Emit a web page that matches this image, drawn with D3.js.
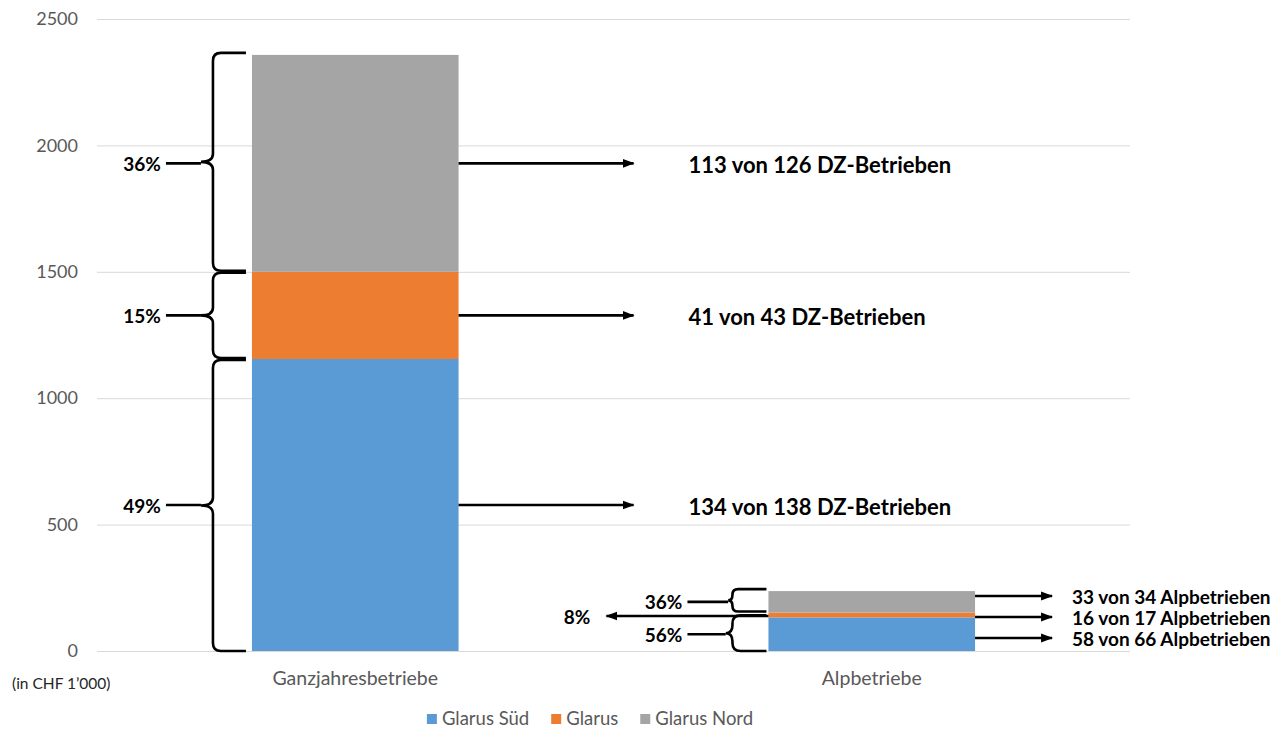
<!DOCTYPE html>
<html>
<head>
<meta charset="utf-8">
<script src="https://cdn.jsdelivr.net/npm/d3@7"></script>
<style>
body{margin:0;background:#fff;}
svg{font-family:Lato,"Open Sans",sans-serif;}
</style>
</head>
<body>
<svg id="chart" width="1277" height="729"></svg>
<script>
// chart values
var categories = ["Ganzjahresbetriebe", "Alpbetriebe"];
var regions = ["Glarus Süd", "Glarus", "Glarus Nord"];
var colors = ["#5B9BD5", "#ED7D31", "#A5A5A5"];
var valSued = [1155, 133];
var valGlarus = [345, 19];
var valNord = [858, 85];
var yTicks = [0, 500, 1000, 1500, 2000, 2500];
// betriebe with payments / all betriebe
var countSued = [134, 58], totalSued = [138, 66];
var countGlarus = [41, 16], totalGlarus = [43, 17];
var countNord = [113, 33], totalNord = [126, 34];
var unitLabel = ["DZ-Betrieben", "Alpbetrieben"];
var unitNote = "(in CHF 1\u2019000)";

var svg = d3.select("#chart");

var table = categories.map(function(c, i){
    return {cat: c, s0: valSued[i], s1: valGlarus[i], s2: valNord[i],
        counts: [countSued[i], countGlarus[i], countNord[i]],
        totals: [totalSued[i], totalGlarus[i], totalNord[i]]};
});
var keys = ["s0", "s1", "s2"];
var series = d3.stack().keys(keys)(table);

var y = d3.scaleLinear().domain([0, 2500]).range([651, 19]);
var x = d3.scaleBand().domain(categories).range([97, 1130]).paddingInner(0.6).paddingOuter(0.3);

// grid
svg.append("g").selectAll("line").data(yTicks).enter().append("line")
    .attr("x1", 97).attr("x2", 1130)
    .attr("y1", function(d){return y(d) + 0.5;}).attr("y2", function(d){return y(d) + 0.5;})
    .attr("stroke", "#D9D9D9").attr("stroke-width", 1);

// y axis labels
var yAxis = d3.axisLeft(y).tickValues(yTicks).tickSize(0).tickPadding(0).tickFormat(d3.format("d"));
var ga = svg.append("g").attr("transform", "translate(78,0)").call(yAxis);
ga.select(".domain").remove();
ga.selectAll("text").attr("fill", "#595959").style("font-size", "18px").style("font-family", "Lato,sans-serif");

// bars
svg.append("g").selectAll("g").data(series).enter().append("g")
    .attr("fill", function(d, i){return colors[i];})
    .selectAll("rect").data(function(d){return d;}).enter().append("rect")
    .attr("x", function(d){return x(d.data.cat);})
    .attr("width", x.bandwidth())
    .attr("y", function(d){return y(d[1]);})
    .attr("height", function(d){return y(d[0]) - y(d[1]);});

// category labels
svg.append("g").selectAll("text").data(categories).enter().append("text")
    .attr("x", function(d){return x(d) + x.bandwidth() / 2;})
    .attr("y", 678).attr("dy", "0.35em")
    .attr("text-anchor", "middle").attr("fill", "#595959").style("font-size", "19.5px")
    .text(function(d){return d;});

svg.append("text").attr("x", 12).attr("y", 684).attr("dy", "0.35em")
    .attr("fill", "#262626").style("font-size", "15.5px").text(unitNote);

// arrow marker
svg.append("defs").append("marker").attr("id", "ah")
    .attr("markerUnits", "userSpaceOnUse").attr("markerWidth", 12).attr("markerHeight", 10)
    .attr("refX", 11).attr("refY", 5).attr("orient", "auto")
    .append("path").attr("d", "M0,0.5 L12,5 L0,9.5 Z").attr("fill", "#000");

function brace(xv, xt, y0, y1, d){
    var ym = (y0 + y1) / 2, r = Math.min(8, (y1 - y0) / 4);
    return "M" + xt + "," + y0 + " L" + (xv + r) + "," + y0 + " Q" + xv + "," + y0 + " " + xv + "," + (y0 + r) +
        " L" + xv + "," + (ym - r) + " Q" + xv + "," + ym + " " + (xv - d) + "," + ym +
        " Q" + xv + "," + ym + " " + xv + "," + (ym + r) +
        " L" + xv + "," + (y1 - r) + " Q" + xv + "," + y1 + " " + (xv + r) + "," + y1 + " L" + xt + "," + y1;
}

var ann = svg.append("g");
table.forEach(function(row, ci){
    var big = ci == 0;
    var left = x(row.cat), right = left + x.bandwidth();
    var total = row.s0 + row.s1 + row.s2;
    var segs = series.map(function(s, k){
        var d = s[ci];
        return {k: k, top: y(d[1]), bot: y(d[0]), mid: (y(d[0]) + y(d[1])) / 2,
            pct: Math.round((d[1] - d[0]) / total * 100)};
    });
    // right side label positions, spread if too tight
    var gap = big ? 26 : 21;
    var pos = segs.map(function(s){return s.mid;}).reverse(); // top to bottom
    var orig = pos.slice();
    for (var i = 1; i < pos.length; i++) if (pos[i] - pos[i - 1] < gap) pos[i] = pos[i - 1] + gap;
    var shift = d3.mean(orig) - d3.mean(pos);
    if (Math.abs(shift) > 0.01) pos = pos.map(function(p){return p + shift;});
    pos.reverse();

    segs.forEach(function(s, k){
        var ly = pos[k];
        var ax1 = big ? right + 175 : right + 77;
        ann.append("line").attr("x1", right).attr("x2", ax1).attr("y1", ly).attr("y2", ly)
            .attr("stroke", "#000").attr("stroke-width", 2.6).attr("marker-end", "url(#ah)");
        ann.append("text").attr("x", big ? right + 230 : right + 97).attr("y", ly + (big ? 2 : 1)).attr("dy", "0.35em")
            .attr("fill", "#000").style("font-weight", "bold").style("font-size", big ? "22px" : "19px")
            .text(row.counts[k] + " von " + row.totals[k] + " " + unitLabel[ci]);

        var h = s.bot - s.top;
        if (h >= 10) {
            var xv = left - (big ? 39 : 36), d = Math.min(12, h / 5);
            ann.append("path").attr("d", brace(xv, left - (big ? 6 : 2), s.top + (k == 2 || !big ? -2 : 1), s.bot + (k == 0 ? 0 : -1), d))
                .attr("fill", "none").attr("stroke", "#000").attr("stroke-width", 2.6);
            var tr = left - (big ? 91 : 86);
            ann.append("line").attr("x1", tr + 5).attr("x2", xv - d).attr("y1", s.mid).attr("y2", s.mid)
                .attr("stroke", "#000").attr("stroke-width", 2.6);
            ann.append("text").attr("x", tr).attr("y", s.mid + 1).attr("dy", "0.35em").attr("text-anchor", "end")
                .attr("fill", "#000").style("font-weight", "bold").style("font-size", "19px")
                .text(s.pct + "%");
        } else {
            ann.append("line").attr("x1", left).attr("x2", left - 162).attr("y1", s.mid + 1).attr("y2", s.mid + 1)
                .attr("stroke", "#000").attr("stroke-width", 2.6).attr("marker-end", "url(#ah)");
            ann.append("text").attr("x", left - 178).attr("y", s.mid + 2).attr("dy", "0.35em").attr("text-anchor", "end")
                .attr("fill", "#000").style("font-weight", "bold").style("font-size", "19px")
                .text(s.pct + "%");
        }
    });
});

// legend
var lg = svg.append("g");
var lx = 0;
regions.forEach(function(r, i){
    var g = lg.append("g").attr("transform", "translate(" + lx + ",0)");
    g.append("rect").attr("x", 0).attr("y", -5).attr("width", 10).attr("height", 10).attr("fill", colors[i]);
    var t = g.append("text").attr("x", 15).attr("y", 0).attr("dy", "0.35em")
        .attr("fill", "#595959").style("font-size", "18.5px").text(r);
    lx += 15 + t.node().getComputedTextLength() + 22;
});
var lw = lx - 22;
lg.attr("transform", "translate(" + (590 - lw / 2) + ",719)");
</script>
</body>
</html>
